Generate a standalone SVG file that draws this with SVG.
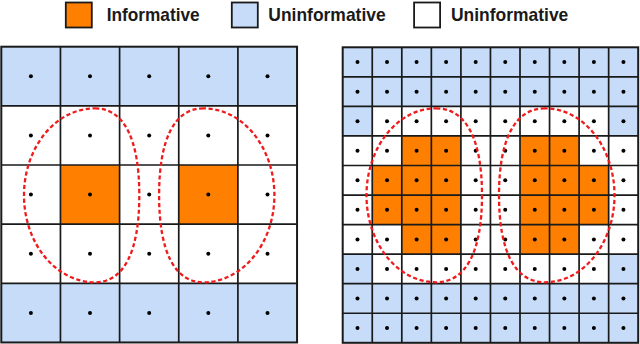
<svg xmlns="http://www.w3.org/2000/svg" width="640" height="344" viewBox="0 0 640 344">
<style>
.bg{fill:#ffffff}
.blue{fill:#c6dcf8}
.orange{fill:#ff8000}
.grid{fill:none;stroke:#1a1a1a;stroke-width:1.7}
.border{fill:none;stroke:#1a1a1a;stroke-width:2}
.dots circle{fill:#000000}
.region{fill:none;stroke:#ee1c1c;stroke-width:2.3;stroke-dasharray:4.2 2.6}
.key{stroke:#1a1a1a;stroke-width:1.8}
.lbl{font-family:"Liberation Sans",Arial,sans-serif;font-weight:bold;font-size:18.5px;fill:#1a1a1a}
</style>
<g id="legend">
  <rect class="key orange" x="65.8" y="2.5" width="26" height="25"/>
  <text class="lbl" x="106.7" y="21" textLength="93" lengthAdjust="spacingAndGlyphs">Informative</text>
  <rect class="key blue" x="231.8" y="2.5" width="26" height="25"/>
  <text class="lbl" x="268.3" y="21" textLength="117.4" lengthAdjust="spacingAndGlyphs">Uninformative</text>
  <rect class="key bg" x="414.1" y="2.5" width="26" height="25"/>
  <text class="lbl" x="451" y="21" textLength="117.3" lengthAdjust="spacingAndGlyphs">Uninformative</text>
</g>
<g id="left-grid">
  <rect class="bg" x="1.3" y="46.7" width="295.75" height="295.75"/>
  <rect class="blue" x="1.3" y="46.7" width="295.75" height="59.15"/>
  <rect class="blue" x="1.3" y="283.3" width="295.75" height="59.15"/>
  <rect class="orange" x="60.45" y="165" width="59.15" height="59.15"/>
  <rect class="orange" x="178.75" y="165" width="59.15" height="59.15"/>
  <path class="grid" d="M60.45,46.7V342.45M119.6,46.7V342.45M178.75,46.7V342.45M237.9,46.7V342.45M1.3,105.85H297.05M1.3,165H297.05M1.3,224.15H297.05M1.3,283.3H297.05"/>
  <rect class="border" x="1.3" y="46.7" width="295.75" height="295.75"/>
  <g class="dots">
    <circle cx="30.9" cy="76.3" r="2"/><circle cx="90" cy="76.3" r="2"/><circle cx="149.2" cy="76.3" r="2"/><circle cx="208.3" cy="76.3" r="2"/><circle cx="267.5" cy="76.3" r="2"/>
    <circle cx="30.9" cy="135.4" r="2"/><circle cx="90" cy="135.4" r="2"/><circle cx="149.2" cy="135.4" r="2"/><circle cx="208.3" cy="135.4" r="2"/><circle cx="267.5" cy="135.4" r="2"/>
    <circle cx="30.9" cy="194.6" r="2"/><circle cx="90" cy="194.6" r="2"/><circle cx="149.2" cy="194.6" r="2"/><circle cx="208.3" cy="194.6" r="2"/><circle cx="267.5" cy="194.6" r="2"/>
    <circle cx="30.9" cy="253.7" r="2"/><circle cx="90" cy="253.7" r="2"/><circle cx="149.2" cy="253.7" r="2"/><circle cx="208.3" cy="253.7" r="2"/><circle cx="267.5" cy="253.7" r="2"/>
    <circle cx="30.9" cy="312.9" r="2"/><circle cx="90" cy="312.9" r="2"/><circle cx="149.2" cy="312.9" r="2"/><circle cx="208.3" cy="312.9" r="2"/><circle cx="267.5" cy="312.9" r="2"/>
  </g>
</g>
<g id="right-grid">
  <rect class="bg" x="342.7" y="47.3" width="295.5" height="295.5"/>
  <rect class="blue" x="342.7" y="47.3" width="295.5" height="59.1"/>
  <rect class="blue" x="342.7" y="283.7" width="295.5" height="59.1"/>
  <rect class="blue" x="342.7" y="106.4" width="29.55" height="29.55"/>
  <rect class="blue" x="608.65" y="106.4" width="29.55" height="29.55"/>
  <rect class="blue" x="342.7" y="254.15" width="29.55" height="29.55"/>
  <rect class="blue" x="608.65" y="254.15" width="29.55" height="29.55"/>
  <rect class="orange" x="401.8" y="135.95" width="59.1" height="29.55"/>
  <rect class="orange" x="401.8" y="224.6" width="59.1" height="29.55"/>
  <rect class="orange" x="372.25" y="165.5" width="88.65" height="59.1"/>
  <rect class="orange" x="520" y="135.95" width="59.1" height="29.55"/>
  <rect class="orange" x="520" y="224.6" width="59.1" height="29.55"/>
  <rect class="orange" x="520" y="165.5" width="88.65" height="59.1"/>
  <path class="grid" d="M372.25,47.3V342.8M401.8,47.3V342.8M431.35,47.3V342.8M460.9,47.3V342.8M490.45,47.3V342.8M520,47.3V342.8M549.55,47.3V342.8M579.1,47.3V342.8M608.65,47.3V342.8M342.7,76.85H638.2M342.7,106.4H638.2M342.7,135.95H638.2M342.7,165.5H638.2M342.7,195.05H638.2M342.7,224.6H638.2M342.7,254.15H638.2M342.7,283.7H638.2M342.7,313.25H638.2"/>
  <rect class="border" x="342.7" y="47.3" width="295.5" height="295.5"/>
  <g class="dots">
    <circle cx="357.48" cy="62.08" r="2"/><circle cx="387.03" cy="62.08" r="2"/><circle cx="416.58" cy="62.08" r="2"/><circle cx="446.13" cy="62.08" r="2"/><circle cx="475.68" cy="62.08" r="2"/><circle cx="505.23" cy="62.08" r="2"/><circle cx="534.78" cy="62.08" r="2"/><circle cx="564.33" cy="62.08" r="2"/><circle cx="593.88" cy="62.08" r="2"/><circle cx="623.43" cy="62.08" r="2"/>
    <circle cx="357.48" cy="91.63" r="2"/><circle cx="387.03" cy="91.63" r="2"/><circle cx="416.58" cy="91.63" r="2"/><circle cx="446.13" cy="91.63" r="2"/><circle cx="475.68" cy="91.63" r="2"/><circle cx="505.23" cy="91.63" r="2"/><circle cx="534.78" cy="91.63" r="2"/><circle cx="564.33" cy="91.63" r="2"/><circle cx="593.88" cy="91.63" r="2"/><circle cx="623.43" cy="91.63" r="2"/>
    <circle cx="357.48" cy="121.18" r="2"/><circle cx="387.03" cy="121.18" r="2"/><circle cx="416.58" cy="121.18" r="2"/><circle cx="446.13" cy="121.18" r="2"/><circle cx="475.68" cy="121.18" r="2"/><circle cx="505.23" cy="121.18" r="2"/><circle cx="534.78" cy="121.18" r="2"/><circle cx="564.33" cy="121.18" r="2"/><circle cx="593.88" cy="121.18" r="2"/><circle cx="623.43" cy="121.18" r="2"/>
    <circle cx="357.48" cy="150.73" r="2"/><circle cx="387.03" cy="150.73" r="2"/><circle cx="416.58" cy="150.73" r="2"/><circle cx="446.13" cy="150.73" r="2"/><circle cx="475.68" cy="150.73" r="2"/><circle cx="505.23" cy="150.73" r="2"/><circle cx="534.78" cy="150.73" r="2"/><circle cx="564.33" cy="150.73" r="2"/><circle cx="593.88" cy="150.73" r="2"/><circle cx="623.43" cy="150.73" r="2"/>
    <circle cx="357.48" cy="180.28" r="2"/><circle cx="387.03" cy="180.28" r="2"/><circle cx="416.58" cy="180.28" r="2"/><circle cx="446.13" cy="180.28" r="2"/><circle cx="475.68" cy="180.28" r="2"/><circle cx="505.23" cy="180.28" r="2"/><circle cx="534.78" cy="180.28" r="2"/><circle cx="564.33" cy="180.28" r="2"/><circle cx="593.88" cy="180.28" r="2"/><circle cx="623.43" cy="180.28" r="2"/>
    <circle cx="357.48" cy="209.83" r="2"/><circle cx="387.03" cy="209.83" r="2"/><circle cx="416.58" cy="209.83" r="2"/><circle cx="446.13" cy="209.83" r="2"/><circle cx="475.68" cy="209.83" r="2"/><circle cx="505.23" cy="209.83" r="2"/><circle cx="534.78" cy="209.83" r="2"/><circle cx="564.33" cy="209.83" r="2"/><circle cx="593.88" cy="209.83" r="2"/><circle cx="623.43" cy="209.83" r="2"/>
    <circle cx="357.48" cy="239.38" r="2"/><circle cx="387.03" cy="239.38" r="2"/><circle cx="416.58" cy="239.38" r="2"/><circle cx="446.13" cy="239.38" r="2"/><circle cx="475.68" cy="239.38" r="2"/><circle cx="505.23" cy="239.38" r="2"/><circle cx="534.78" cy="239.38" r="2"/><circle cx="564.33" cy="239.38" r="2"/><circle cx="593.88" cy="239.38" r="2"/><circle cx="623.43" cy="239.38" r="2"/>
    <circle cx="357.48" cy="268.93" r="2"/><circle cx="387.03" cy="268.93" r="2"/><circle cx="416.58" cy="268.93" r="2"/><circle cx="446.13" cy="268.93" r="2"/><circle cx="475.68" cy="268.93" r="2"/><circle cx="505.23" cy="268.93" r="2"/><circle cx="534.78" cy="268.93" r="2"/><circle cx="564.33" cy="268.93" r="2"/><circle cx="593.88" cy="268.93" r="2"/><circle cx="623.43" cy="268.93" r="2"/>
    <circle cx="357.48" cy="298.48" r="2"/><circle cx="387.03" cy="298.48" r="2"/><circle cx="416.58" cy="298.48" r="2"/><circle cx="446.13" cy="298.48" r="2"/><circle cx="475.68" cy="298.48" r="2"/><circle cx="505.23" cy="298.48" r="2"/><circle cx="534.78" cy="298.48" r="2"/><circle cx="564.33" cy="298.48" r="2"/><circle cx="593.88" cy="298.48" r="2"/><circle cx="623.43" cy="298.48" r="2"/>
    <circle cx="357.48" cy="328.03" r="2"/><circle cx="387.03" cy="328.03" r="2"/><circle cx="416.58" cy="328.03" r="2"/><circle cx="446.13" cy="328.03" r="2"/><circle cx="475.68" cy="328.03" r="2"/><circle cx="505.23" cy="328.03" r="2"/><circle cx="534.78" cy="328.03" r="2"/><circle cx="564.33" cy="328.03" r="2"/><circle cx="593.88" cy="328.03" r="2"/><circle cx="623.43" cy="328.03" r="2"/>
  </g>
</g>
<g id="regions">
  <path class="region" d="M95,108.3C123.8,108.3 139.3,138.75 139.3,195.3C139.3,251.85 123.8,282.3 95,282.3C55.8,282.3 24,243.3 24,195.3C24,147.3 55.8,108.3 95,108.3Z"/>
  <path class="region" d="M203.4,108.3C174.6,108.3 159.1,138.75 159.1,195.3C159.1,251.85 174.6,282.3 203.4,282.3C242.6,282.3 274.4,243.3 274.4,195.3C274.4,147.3 242.6,108.3 203.4,108.3Z"/>
  <path class="region" d="M436,108.3C465.9,108.3 482,138.75 482,195.3C482,251.85 465.9,282.3 436,282.3C397.6,282.3 366.5,243.3 366.5,195.3C366.5,147.3 397.6,108.3 436,108.3Z"/>
  <path class="region" d="M545,108.3C515.1,108.3 499,138.75 499,195.3C499,251.85 515.1,282.3 545,282.3C583.4,282.3 614.5,243.3 614.5,195.3C614.5,147.3 583.4,108.3 545,108.3Z"/>
</g>
</svg>
